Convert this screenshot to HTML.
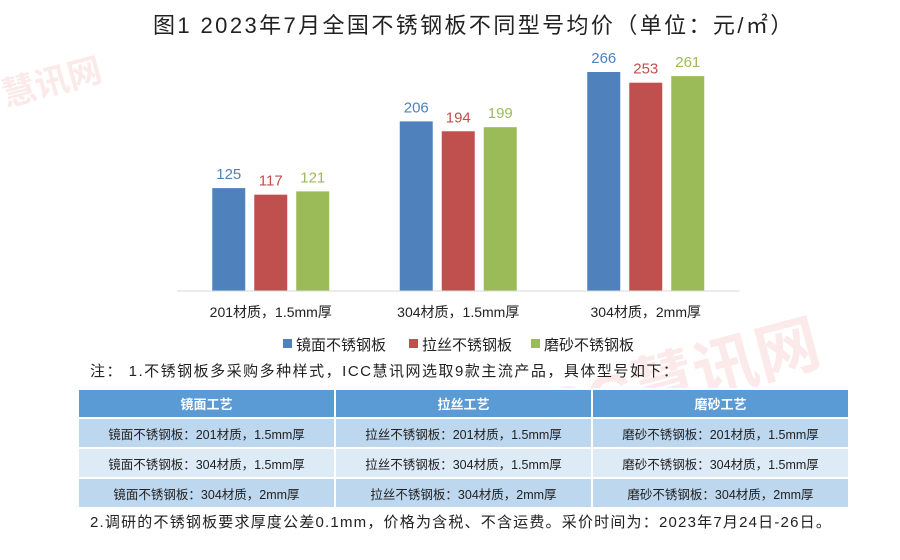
<!DOCTYPE html>
<html><head><meta charset="utf-8"><style>
body{margin:0;background:#fff;font-family:"Liberation Sans","Noto Sans CJK SC",sans-serif;}
#wrap{position:relative;width:900px;height:560px;overflow:hidden;}
.t{position:absolute;white-space:nowrap;}
table{position:absolute;left:77px;top:388px;width:773px;border-collapse:collapse;font-size:12.5px;color:#222;}
td{text-align:center;border:2px solid #fff;padding:0;}
th{background:#5b9bd5;color:#fff;height:25px;border:2px solid #fff;font-size:13px;}
tr.a td{background:#bdd7ee;height:28px;}
tr.b td{background:#ddebf7;height:28px;}
</style></head><body>
<div id="wrap">
<div class="t" style="left:153px;top:8px;font-size:22px;letter-spacing:2.4px;color:#222;">图1 2023年7月全国不锈钢板不同型号均价（单位：元/㎡）</div>
<div class="t" style="left:0px;top:55px;font-size:34px;font-weight:bold;color:rgba(230,80,80,0.12);transform:rotate(-15deg);">慧讯网</div>
<div class="t" style="left:520px;top:330px;font-size:64px;font-weight:bold;color:rgba(230,80,80,0.12);transform:rotate(-15deg);">ICC慧讯网</div>
<svg id="chart" width="900" height="360" style="position:absolute;left:0;top:0"></svg>
<div class="t" style="left:90px;top:360px;font-size:15px;letter-spacing:1.5px;color:#222;">注：&nbsp;1.不锈钢板多采购多种样式，ICC慧讯网选取9款主流产品，具体型号如下：</div>
<table>
<tr><th>镜面工艺</th><th>拉丝工艺</th><th>磨砂工艺</th></tr>
<tr class="a"><td>镜面不锈钢板：201材质，1.5mm厚</td><td>拉丝不锈钢板：201材质，1.5mm厚</td><td>磨砂不锈钢板：201材质，1.5mm厚</td></tr>
<tr class="b"><td>镜面不锈钢板：304材质，1.5mm厚</td><td>拉丝不锈钢板：304材质，1.5mm厚</td><td>磨砂不锈钢板：304材质，1.5mm厚</td></tr>
<tr class="a"><td>镜面不锈钢板：304材质，2mm厚</td><td>拉丝不锈钢板：304材质，2mm厚</td><td>磨砂不锈钢板：304材质，2mm厚</td></tr>
</table>
<div class="t" style="left:90px;top:511px;font-size:15px;letter-spacing:1.2px;color:#222;">2.调研的不锈钢板要求厚度公差0.1mm，价格为含税、不含运费。采价时间为：2023年7月24日-26日。</div>
</div>
<script>
const categories=["201材质，1.5mm厚","304材质，1.5mm厚","304材质，2mm厚"];
const seriesNames=["镜面不锈钢板","拉丝不锈钢板","磨砂不锈钢板"];
const mirror=[125,206,266];
const brushed=[117,194,253];
const frosted=[121,199,261];
const colors=["#4f81bd","#c0504d","#9bbb59"];
const svg=document.getElementById('chart');
const NS="http://www.w3.org/2000/svg";
const base=291, scale=219/266, x0=177, gw=187.5, bw=33;
function y(v){return base-v*scale;}
function gx(i){return x0+gw*i+gw/2;}
function mk(tag,attrs,text){const e=document.createElementNS(NS,tag);for(const k in attrs)e.setAttribute(k,attrs[k]);if(text!==undefined)e.textContent=text;svg.appendChild(e);return e;}
const series=[mirror,brushed,frosted];
series.forEach((s,si)=>{s.forEach((v,ci)=>{
 const cx=gx(ci)+(si-1)*42;
 const r=mk('rect',{x:cx-bw/2,y:y(v),width:bw,height:base-y(v),fill:colors[si]});
 
 
 const t=mk('text',{x:cx,y:y(v)-9,'text-anchor':'middle','font-size':15,fill:colors[si]},v);
 
 
});});
const ax=mk('line',{x1:x0,x2:x0+gw*3,y1:base,y2:base,stroke:'#d9d9d9'});


categories.forEach((c,ci)=>{
 const t=mk('text',{x:gx(ci),y:317,'text-anchor':'middle','font-size':14,fill:'#222'},c);
 
 
});
const lx=[283,409,531];
seriesNames.forEach((n,i)=>{
 const r=mk('rect',{x:lx[i],y:339,width:9,height:9,fill:colors[i]});
 
 
 const t=mk('text',{x:lx[i]+13,y:350,'font-size':15,fill:'#222'},n);
 
 
});
</script>
</body></html>
